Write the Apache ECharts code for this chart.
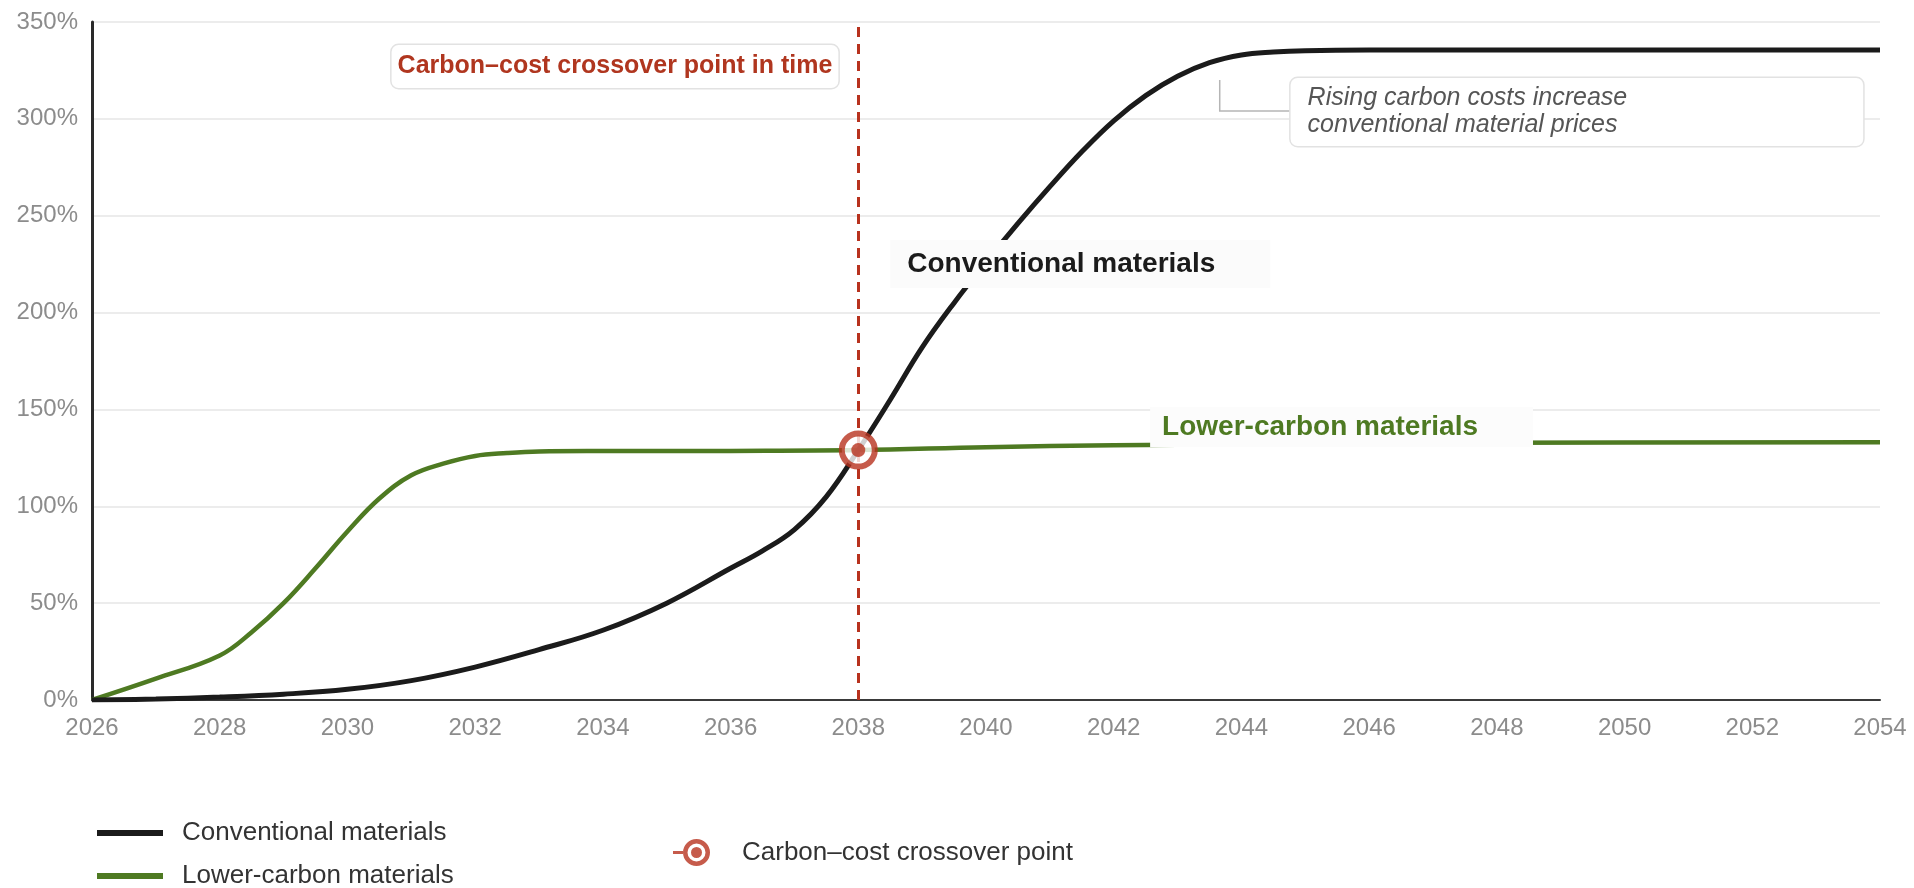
<!DOCTYPE html>
<html>
<head>
<meta charset="utf-8">
<title>Conventional vs lower-carbon material prices</title>
<script src="https://cdn.jsdelivr.net/npm/echarts@6/dist/echarts.min.js"></script>
<style>
  html, body { margin: 0; padding: 0; background: #ffffff; }
  #chart { width: 1914px; height: 888px; }
</style>
</head>
<body>
<div id="chart"></div>
<script>
// ---- data -------------------------------------------------------------
const conventionalYears  = [2026, 2027, 2028, 2029, 2030, 2031, 2032, 2033, 2034, 2035, 2036, 2036.5, 2037, 2037.5, 2038, 2038.5, 2039, 2039.5, 2040, 2040.5, 2041, 2041.5, 2042, 2042.5, 2043, 2043.5, 2044, 2044.5, 2045, 2046, 2050, 2054];
const conventionalValues = [0, 0.5, 1.5, 3, 5.5, 10, 17, 26, 36, 50, 68, 77, 88, 105, 129, 155, 182, 205, 226, 246, 265, 283, 299, 312, 322, 329, 333, 334.5, 335.2, 335.5, 335.5, 335.5];

const lowerCarbonYears  = [2026, 2027, 2028, 2028.5, 2029, 2029.5, 2030, 2030.5, 2031, 2031.5, 2032, 2032.5, 2033, 2034, 2036, 2038, 2040, 2042, 2044, 2048, 2054];
const lowerCarbonValues = [0, 11, 23, 35, 50, 68, 87, 104, 116, 122, 126, 127.5, 128.3, 128.5, 128.6, 129, 130.5, 131.5, 132, 132.8, 133];

const crossoverYear  = 2038;
const crossoverValue = 129;

const yTickValues = [0, 50, 100, 150, 200, 250, 300, 350];
const xTickYears  = [2026, 2028, 2030, 2032, 2034, 2036, 2038, 2040, 2042, 2044, 2046, 2048, 2050, 2052, 2054];

const seriesNames = ['Conventional materials', 'Lower-carbon materials', 'Carbon–cost crossover point'];
const crossoverTitle = 'Carbon–cost crossover point in time';
const risingNote = ['Rising carbon costs increase', 'conventional material prices'];

// ---- styling ----------------------------------------------------------
const FONT  = '"Liberation Sans", Arial, Helvetica, sans-serif';
const RED   = '#b8321e';
const GREEN = '#4e7a22';
const BLACK = '#1b1b1b';
const AXIS_TEXT = '#8c8c8c';
const LEGEND_TEXT = { color: '#333333', fontSize: 26, fontFamily: FONT };

const zip = (xs, ys) => xs.map((x, i) => [x, ys[i]]);

const chart = echarts.init(document.getElementById('chart'), null, { renderer: 'canvas' });

// legend icon: short stub + target ring + centre dot
const targetIcon = 'path://M0 12 L10 12 L10 15 L0 15 Z ' +
  'M10 13.5 A13.5 13.5 0 1 1 37 13.5 A13.5 13.5 0 1 1 10 13.5 Z ' +
  'M14.5 13.5 A9 9 0 1 0 32.5 13.5 A9 9 0 1 0 14.5 13.5 Z ' +
  'M18 13.5 A5.5 5.5 0 1 1 29 13.5 A5.5 5.5 0 1 1 18 13.5 Z';

const lineLegend = (name, top) => ({
  left: 92, top: top,
  itemWidth: 66, itemHeight: 6,
  selectedMode: false,
  icon: 'rect',
  textStyle: Object.assign({ padding: [0, 0, 0, 14] }, LEGEND_TEXT),
  data: [name]
});

chart.setOption({
  animation: false,
  backgroundColor: '#ffffff',
  textStyle: { fontFamily: FONT },
  grid: { left: 92, right: 34, top: 22, bottom: 188, containLabel: false, outerBoundsMode: 'none' },
  xAxis: {
    type: 'value',
    min: xTickYears[0],
    max: xTickYears[xTickYears.length - 1],
    interval: xTickYears[1] - xTickYears[0],
    axisLine: { show: true, lineStyle: { color: '#3a3a3a', width: 2 } },
    axisTick: { show: false },
    splitLine: { show: false },
    axisLabel: {
      color: AXIS_TEXT, fontSize: 24, fontFamily: FONT, margin: 16,
      showMinLabel: true, showMaxLabel: true,
      formatter: v => String(v)
    }
  },
  yAxis: {
    type: 'value',
    min: yTickValues[0],
    max: yTickValues[yTickValues.length - 1],
    interval: yTickValues[1] - yTickValues[0],
    axisLine: { show: true, lineStyle: { color: '#2a2a2a', width: 3 } },
    axisTick: { show: false },
    splitLine: { show: true, lineStyle: { color: '#e6e6e6', width: 1.5 } },
    axisLabel: {
      color: AXIS_TEXT, fontSize: 24, fontFamily: FONT, margin: 14,
      formatter: v => v + '%'
    }
  },
  legend: [
    lineLegend(seriesNames[0], 815),
    lineLegend(seriesNames[1], 858),
    {
      left: 668, top: 834,
      itemWidth: 37, itemHeight: 27,
      selectedMode: false,
      textStyle: Object.assign({ padding: [0, 0, 0, 27] }, LEGEND_TEXT),
      data: [{ name: seriesNames[2], icon: targetIcon, itemStyle: { color: RED, borderWidth: 0 } }]
    }
  ],
  series: [
    {
      name: seriesNames[0],
      type: 'line',
      data: zip(conventionalYears, conventionalValues),
      smooth: 0.4,
      showSymbol: false,
      color: BLACK,
      lineStyle: { color: BLACK, width: 5 },
      itemStyle: { color: BLACK },
      emphasis: { disabled: true },
      z: 4
    },
    {
      name: seriesNames[1],
      type: 'line',
      data: zip(lowerCarbonYears, lowerCarbonValues),
      smooth: 0.4,
      showSymbol: false,
      color: GREEN,
      lineStyle: { color: GREEN, width: 4.5 },
      itemStyle: { color: GREEN },
      emphasis: { disabled: true },
      z: 3,
      markLine: {
        silent: true,
        symbol: 'none',
        z: 2,
        label: { show: false },
        lineStyle: { color: RED, width: 3, type: [10, 7] },
        data: [{ xAxis: crossoverYear }]
      }
    },
    {
      name: seriesNames[2],
      type: 'scatter',
      data: [[crossoverYear, crossoverValue]],
      symbol: 'circle',
      symbolSize: 33,
      itemStyle: { color: '#ffffff', borderColor: RED, borderWidth: 6 },
      emphasis: { disabled: true },
      z: 10
    },
    {
      name: 'crossover-centre',
      type: 'scatter',
      data: [[crossoverYear, crossoverValue]],
      symbol: 'circle',
      symbolSize: 14,
      itemStyle: { color: RED },
      emphasis: { disabled: true },
      z: 11
    }
  ]
});

// ---- annotations, placed in data coordinates ---------------------------
const px = (x, y) => chart.convertToPixel({ gridIndex: 0 }, [x, y]);

const titleAt   = px(2034.19, 327.0);   // centre of the crossover caption
const noteAt    = px(2044.77, 321.1);   // top-left of the note box
const leaderPts = [px(2043.66, 320.0), px(2043.66, 304.1), px(2044.77, 304.1)];
const convAt    = px(2038.50, 237.5);   // top-left of the series caption
const lowAt     = px(2042.57, 151.3);

chart.setOption({
  graphic: [
    {
      type: 'text', z: 100,
      x: titleAt[0], y: titleAt[1],
      style: {
        text: crossoverTitle,
        fontFamily: FONT, fontSize: 25, fontWeight: 'bold',
        fill: '#b0361f',
        align: 'center', verticalAlign: 'middle',
        backgroundColor: '#ffffff',
        borderColor: '#e2e2e2', borderWidth: 1.5, borderRadius: 7,
        padding: [9, 6]
      }
    },
    {
      type: 'polyline', z: 90,
      shape: { points: leaderPts },
      style: { stroke: '#b5b5b5', lineWidth: 1.5, fill: null }
    },
    {
      type: 'text', z: 100,
      x: noteAt[0], y: noteAt[1],
      style: {
        text: risingNote.join('\n'),
        fontFamily: FONT, fontSize: 25, fontStyle: 'italic',
        fill: '#555555',
        lineHeight: 27,
        align: 'left', verticalAlign: 'top',
        backgroundColor: '#ffffff',
        borderColor: '#e2e2e2', borderWidth: 1.5, borderRadius: 7,
        padding: [7, 236, 7, 17]
      }
    },
    {
      type: 'text', z: 100,
      x: convAt[0], y: convAt[1],
      style: {
        text: seriesNames[0],
        fontFamily: FONT, fontSize: 28, fontWeight: 'bold',
        fill: BLACK,
        align: 'left', verticalAlign: 'top',
        backgroundColor: '#fbfbfb',
        padding: [10, 55, 10, 17]
      }
    },
    {
      type: 'text', z: 100,
      x: lowAt[0], y: lowAt[1],
      style: {
        text: seriesNames[1],
        fontFamily: FONT, fontSize: 28, fontWeight: 'bold',
        fill: GREEN,
        align: 'left', verticalAlign: 'top',
        backgroundColor: '#fcfcfc',
        padding: [6, 55, 6, 12]
      }
    }
  ]
});
</script>
</body>
</html>
